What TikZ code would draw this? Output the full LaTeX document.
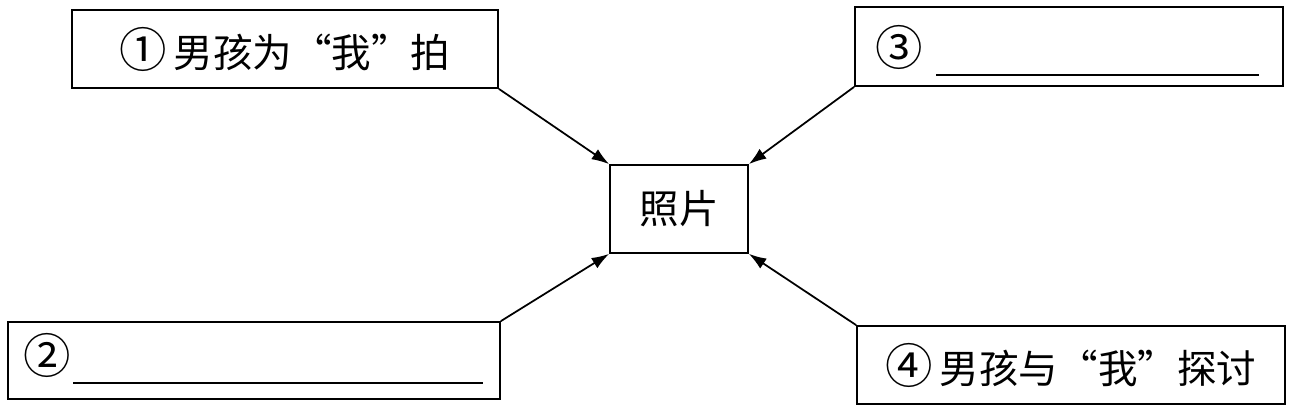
\documentclass[tikz,border=0pt]{standalone}
\usepackage{fontspec}
\setmainfont{Noto Sans CJK SC}
\usetikzlibrary{arrows.meta}

\newcommand{\numcirc}[1]{{\fontsize{27pt}{27pt}\selectfont #1}}

\tikzset{
    box/.style={draw, line width=1pt, inner sep=0pt, font=\fontsize{22.5pt}{26pt}\selectfont},
    link/.style={line width=1pt, -{Latex[length=3.5mm, width=2.4mm]}}
}

\begin{document}
\begin{tikzpicture}[x=0.02cm, y=-0.02cm]
    \useasboundingbox (0,0) rectangle (1308,408);

    % Boxes
    \node[box, minimum width=8.52cm, minimum height=1.56cm] (b1) at (285,49) {\numcirc{①}\,男孩为“我”拍};
    \node[box, minimum width=9.84cm, minimum height=1.54cm] (b2) at (254,360.5) {};
    \node[box, minimum width=8.56cm, minimum height=1.58cm] (b3) at (1069,46.5) {};
    \node[box, minimum width=8.56cm, minimum height=1.56cm] (b4) at (1071,365) {\numcirc{④}\,男孩与“我”探讨};
    \node[box, minimum width=2.76cm, minimum height=1.76cm] (photo) at (679,209) {照片};

    % Blanks
    \node (n2) at (47,355) {\numcirc{②}};
    \node (n3) at (899,47) {\numcirc{③}};
    \draw[line width=0.8pt] (73,383) -- (483,383);
    \draw[line width=0.8pt] (936,75) -- (1259,75);

    % Arrows
    \draw[link] (b1.south east) -- (photo.north west);
    \draw[link] (b3.south west) -- (photo.north east);
    \draw[link] (b2.north east) -- (photo.south west);
    \draw[link] (b4.north west) -- (photo.south east);
\end{tikzpicture}
\end{document}
